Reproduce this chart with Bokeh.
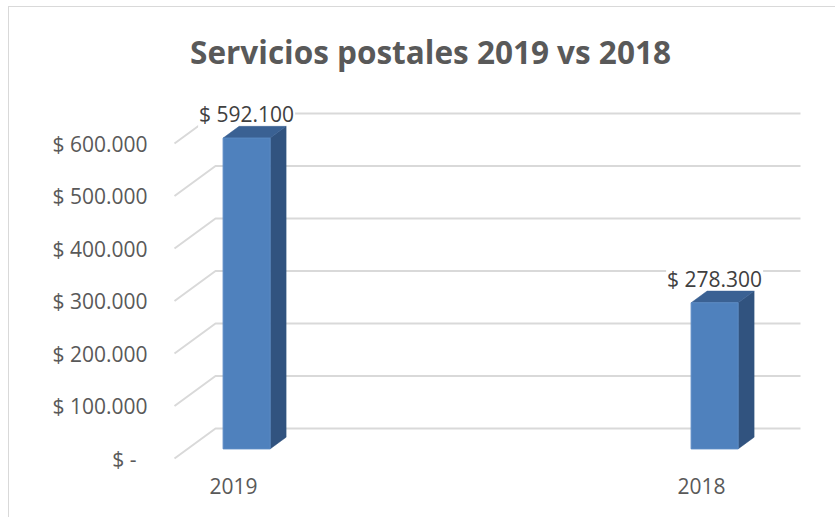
from bokeh.plotting import figure
from bokeh.models import Range1d, FixedTicker, ColumnDataSource
from bokeh.embed import file_html
from bokeh.resources import INLINE
from bokeh.core.properties import value

# ---------------- data ----------------
categories = ["2019", "2018"]
amounts = [592100, 278300]
amount_labels = ["$ 592.100", "$ 278.300"]
y_ticks = [0, 100000, 200000, 300000, 400000, 500000, 600000]
y_tick_labels = ["$ -\u00a0\u00a0", "$ 100.000", "$ 200.000", "$ 300.000",
                 "$ 400.000", "$ 500.000", "$ 600.000"]
title_text = "Servicios postales 2019 vs 2018"

# ---------------- geometry (page pixel based helpers) ----------------
ORIGIN_X, ORIGIN_Y = 9, 7          # where the figure sits on the page
W, H = 826, 510
PAGE_L, PAGE_R, PAGE_T, PAGE_B = 170, 820, 8, 470   # frame edges on the page
Y0_PX = 458             # page row of value 0 on the front plane
Y_SCALE = 0.525 / 1000  # pixels per unit of value
CAT0_PX = 233           # page column of first category (front plane)
CAT_STEP = 468          # pixels between categories
DEPTH_DX_PX, DEPTH_DY_PX = 41, 30   # full depth offset of the 3-D wall
LABEL_GAP_PX = 12       # gap between bar top and its data label
TITLE_X_PX, TITLE_BASE_PX = 430, 51

def x_data(px):
    return (px - CAT0_PX) / CAT_STEP

def y_data(py):
    return (Y0_PX - py) / Y_SCALE

DX = DEPTH_DX_PX / CAT_STEP
DY = DEPTH_DY_PX / Y_SCALE
FLOOR_L = x_data(174)
FLOOR_R = x_data(759)
BAR_W = 47 / CAT_STEP
D1, D2 = 0.32, 0.71

p = figure(width=W, height=H, output_backend="svg", toolbar_location=None,
           x_range=Range1d(x_data(PAGE_L), x_data(PAGE_R)),
           y_range=Range1d(y_data(PAGE_B), y_data(PAGE_T)),
           min_border_left=PAGE_L - ORIGIN_X, min_border_right=W - (PAGE_R - ORIGIN_X),
           min_border_top=PAGE_T - ORIGIN_Y, min_border_bottom=H - (PAGE_B - ORIGIN_Y))
p.styles = {"margin": f"{ORIGIN_Y}px 0px 0px {ORIGIN_X}px",
            "outline": "1px solid #d9d9d9"}
p.outline_line_color = None
p.xgrid.visible = False
p.ygrid.visible = False
p.background_fill_color = "white"
p.border_fill_color = "white"

# ---------------- title ----------------
p.text(x=[x_data(TITLE_X_PX)], y=[y_data(TITLE_BASE_PX)], text=[title_text],
       text_align="center", text_baseline="alphabetic",
       text_font=value("Open Sans"), text_font_size="31.5px",
       text_font_style="bold", text_color="#595959")

# ---------------- 3-D gridlines ----------------
grid_xs, grid_ys = [], []
for t in y_ticks:
    grid_xs.append([FLOOR_L, FLOOR_L + DX, FLOOR_R + DX])
    grid_ys.append([t, t + DY, t + DY])
p.multi_line(grid_xs, grid_ys, line_color="#d9d9d9", line_width=2)

# ---------------- data labels (drawn before bars so bars stay on top) ----------------
lab_src = ColumnDataSource(dict(
    x=[i + D1 * DX for i in range(len(amounts))],
    y=[v + D2 * DY + LABEL_GAP_PX / Y_SCALE for v in amounts],
    text=amount_labels))
p.text(x="x", y="y", text="text", source=lab_src, text_align="center",
       text_baseline="alphabetic",
       text_font=value("Open Sans"), text_font_size="21px", text_color="#404040",
       background_fill_color="white", padding=1)

# ---------------- 3-D bars ----------------
front_l, front_r, front_b, front_t = [], [], [], []
side_xs, side_ys, top_xs, top_ys = [], [], [], []
for i, v in enumerate(amounts):
    l = i - BAR_W / 2 + D1 * DX
    r = i + BAR_W / 2 + D1 * DX
    b = D1 * DY
    t = v + D1 * DY
    ddx = (D2 - D1) * DX
    ddy = (D2 - D1) * DY
    front_l.append(l); front_r.append(r); front_b.append(b); front_t.append(t)
    side_xs.append([r, r, r + ddx, r + ddx])
    side_ys.append([b, t, t + ddy, b + ddy])
    top_xs.append([l, r, r + ddx, l + ddx])
    top_ys.append([t, t, t + ddy, t + ddy])

p.patches(side_xs, side_ys, fill_color="#31537f", line_color="#31537f", line_width=0.5)
p.patches(top_xs, top_ys, fill_color="#3a6193", line_color="#3a6193", line_width=0.5)
p.quad(left=front_l, right=front_r, bottom=front_b, top=front_t,
       fill_color="#4f81bd", line_color="#5a8ac4", line_width=1)

# ---------------- axes ----------------
p.yaxis.ticker = FixedTicker(ticks=y_ticks)
p.yaxis.major_label_overrides = {t: s for t, s in zip(y_ticks, y_tick_labels)}
p.xaxis.ticker = FixedTicker(ticks=list(range(len(categories))))
p.xaxis.major_label_overrides = {i: c for i, c in enumerate(categories)}
for ax in (p.xaxis[0], p.yaxis[0]):
    ax.axis_line_color = None
    ax.major_tick_line_color = None
    ax.minor_tick_line_color = None
    ax.major_tick_out = 0
    ax.major_tick_in = 0
    ax.major_label_text_font = "Open Sans"
    ax.major_label_text_font_size = "21px"
    ax.major_label_text_color = "#595959"
p.yaxis.major_label_standoff = 23
p.xaxis.major_label_standoff = 7

open("out.html", "w").write(file_html(p, INLINE))
